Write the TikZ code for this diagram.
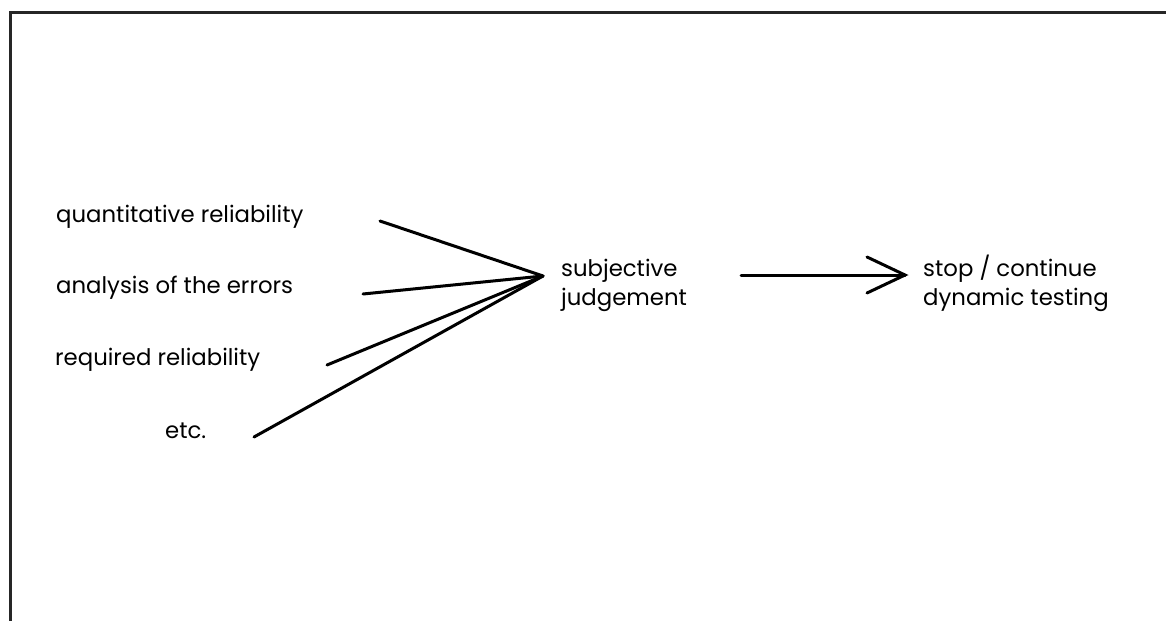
\documentclass[tikz,border=0pt]{standalone}
\usepackage{fontspec}
\setmainfont{Poppins}
\begin{document}
\begin{tikzpicture}[x=1pt,y=-1pt,
  lbl/.style={anchor=base west,inner sep=0pt,font=\fontsize{22.8}{29}\selectfont},
  conn/.style={line width=3pt,line cap=round,black}]
\useasboundingbox (0,0) rectangle (1166,621);
\fill[white] (0,0) rectangle (1166,621);
\draw[line width=3pt,black!85] (1166,12) -- (10,12) -- (10,621);
\node[lbl] (q) at (56,222) {quantitative reliability};
\node[lbl] (a) at (56,293) {analysis of the errors};
\node[lbl] (r) at (55,365) {required reliability};
\node[lbl] (e) at (165,438) {etc.};
\node[lbl,align=left] (s) at (561,305) {subjective\\judgement};
\node[lbl,align=left] (d) at (923,305) {stop / continue\\dynamic testing};
\coordinate (c) at (543,276);
\coordinate (q1) at (380,221);
\coordinate (a1) at (363,294);
\coordinate (r1) at (327,365);
\coordinate (e1) at (254,437);
\draw[conn] (q1) -- (c);
\draw[conn] (a1) -- (c);
\draw[conn] (r1) -- (c);
\draw[conn] (e1) -- (c);
\coordinate (t0) at (741,275);
\coordinate (t1) at (905,275);
\draw[conn] (t0) -- (t1);
\draw[conn,line join=miter] (867,257) -- (t1) -- (867,293);
\end{tikzpicture}
\end{document}
